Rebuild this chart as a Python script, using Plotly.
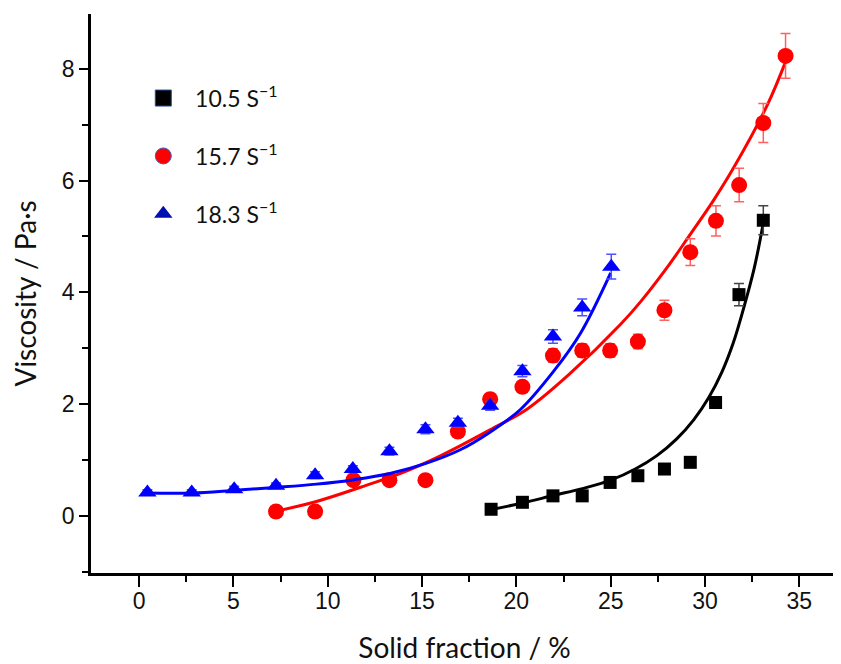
import plotly.graph_objects as go

# ---- data ----
black_x = [18.66, 20.32, 21.94, 23.49, 24.97, 26.44, 27.85, 29.22, 30.56, 31.80, 33.09]
black_y = [0.12, 0.245, 0.36, 0.36, 0.60, 0.72, 0.84, 0.96, 2.03, 3.96, 5.29]
black_err = [0.03, 0.03, 0.03, 0.03, 0.04, 0.04, 0.04, 0.04, 0.05, 0.20, 0.26]

red_x = [7.26, 9.33, 11.36, 13.27, 15.18, 16.9, 18.61, 20.32, 21.94, 23.49, 24.97,
         26.44, 27.85, 29.22, 30.58, 31.81, 33.09, 34.27]
red_y = [0.08, 0.08, 0.64, 0.64, 0.64, 1.51, 2.09, 2.31, 2.87, 2.96, 2.96,
         3.12, 3.68, 4.72, 5.28, 5.92, 7.03, 8.23]
red_err = [0.04, 0.04, 0.05, 0.05, 0.05, 0.08, 0.1, 0.1, 0.12, 0.12, 0.12,
           0.13, 0.18, 0.24, 0.27, 0.3, 0.35, 0.4]

blue_x = [0.44, 2.79, 5.04, 7.26, 9.33, 11.33, 13.27, 15.18, 16.9, 18.61, 20.32,
          21.94, 23.49, 25.03]
blue_y = [0.42, 0.42, 0.48, 0.54, 0.73, 0.84, 1.16, 1.55, 1.67, 1.97, 2.59,
          3.21, 3.73, 4.46]
blue_err = [0.05, 0.05, 0.05, 0.05, 0.06, 0.06, 0.07, 0.08, 0.08, 0.08, 0.1,
            0.12, 0.15, 0.22]

# fitted curves
black_fit_x = [18.6, 20.3, 22.0, 23.5, 25.0, 26.3, 27.45, 28.5, 29.4, 30.2, 30.9, 31.5, 32.0, 32.6, 33.1]
black_fit_y = [0.11, 0.23, 0.37, 0.49, 0.64, 0.84, 1.08, 1.38, 1.72, 2.12, 2.58, 3.10, 3.66, 4.42, 5.26]
red_fit_x = [7.2, 9.4, 11.7, 14.0, 16.0, 18.6, 20.6, 22.85, 25.5, 26.6, 28.15, 29.2, 30.4, 31.5, 33.3, 34.3]
red_fit_y = [0.08, 0.26, 0.51, 0.78, 1.08, 1.54, 1.92, 2.55, 3.42, 3.84, 4.52, 5.03, 5.62, 6.22, 7.35, 8.15]
blue_fit_x = [0.4, 2.8, 5.1, 7.2, 9.4, 11.4, 13.3, 15.2, 17.0, 18.6, 20.2, 22.0, 23.4, 25.0]
blue_fit_y = [0.41, 0.41, 0.46, 0.51, 0.57, 0.65, 0.76, 0.94, 1.18, 1.50, 1.90, 2.60, 3.27, 4.35]

series_names = ["10.5 S<sup>−1</sup>", "15.7 S<sup>−1</sup>", "18.3 S<sup>−1</sup>"]

fig = go.Figure()

def add_series(fx, fy, x, y, err, color, errcolor, symbol, size):
    fig.add_trace(go.Scatter(x=fx, y=fy, mode="lines",
                             line=dict(color=color, width=3, shape="spline", smoothing=1.0),
                             showlegend=False, hoverinfo="skip"))
    fig.add_trace(go.Scatter(x=x, y=y, mode="markers",
                             marker=dict(symbol=symbol, size=size, color=color, line=dict(width=0)),
                             error_y=dict(type="data", array=err, color=errcolor, thickness=1.5, width=5),
                             showlegend=False))

add_series(black_fit_x, black_fit_y, black_x, black_y, black_err, "#000000", "#444444", "square", 13)
add_series(red_fit_x, red_fit_y, red_x, red_y, red_err, "#ff0000", "#ff6060", "circle", 16)
add_series(blue_fit_x, blue_fit_y, blue_x, blue_y, blue_err, "#0000ff", "#5050ff", "triangle-up", 16)

# legend entries
legend_styles = [
    dict(symbol="square", color="#000000", line=dict(color="#1f4e9a", width=1), size=16),
    dict(symbol="circle", color="#ff0000", line=dict(color="#4060c0", width=1), size=16),
    dict(symbol="triangle-up", color="#0010b0", line=dict(width=0), size=16),
]
for i, (nm, st) in enumerate(zip(series_names, legend_styles)):
    fig.add_trace(go.Scatter(x=[None], y=[None], mode="markers", name="  " + nm,
                             marker=st, legendgroup=f"g{i}", showlegend=True))

axis_font = dict(family="Liberation Sans", size=23, color="#111")
title_font = dict(family="Lato", size=28, color="#111")

fig.update_layout(
    width=833, height=656,
    margin=dict(l=83, r=3, t=6, b=91, autoexpand=False),
    paper_bgcolor="white", plot_bgcolor="white",
    showlegend=True,
    legend=dict(x=0.07, y=0.888, xanchor="left", yanchor="top",
                font=dict(family="Lato", size=23, color="#111"),
                bgcolor="rgba(0,0,0,0)", tracegroupgap=25, itemsizing="trace"),
    xaxis=dict(range=[-2.55, 37.05], tickvals=[0, 5, 10, 15, 20, 25, 30, 35],
               showgrid=False, zeroline=False, showline=True, linecolor="#000", linewidth=2.5,
               ticks="outside", ticklen=11, tickwidth=2, tickcolor="#000",
               minor=dict(tickvals=[2.5, 7.5, 12.5, 17.5, 22.5, 27.5, 32.5], ticks="outside",
                          ticklen=6, tickwidth=2, tickcolor="#000"),
               tickfont=axis_font, automargin=False, ticklabelstandoff=-5,
               title=dict(text="Solid fraction / %", font=title_font, standoff=26)),
    yaxis=dict(range=[-1.02, 8.98], tickvals=[0, 2, 4, 6, 8],
               showgrid=False, zeroline=False, showline=True, linecolor="#000", linewidth=2.5,
               ticks="outside", ticklen=9, tickwidth=2, tickcolor="#000",
               minor=dict(tickvals=[-1, 1, 3, 5, 7], ticks="outside",
                          ticklen=6, tickwidth=2, tickcolor="#000"),
               tickfont=axis_font, automargin=False,
               title=dict(text="Viscosity / Pa·s", font=title_font, standoff=23)),
)

fig.write_html("out.html")
